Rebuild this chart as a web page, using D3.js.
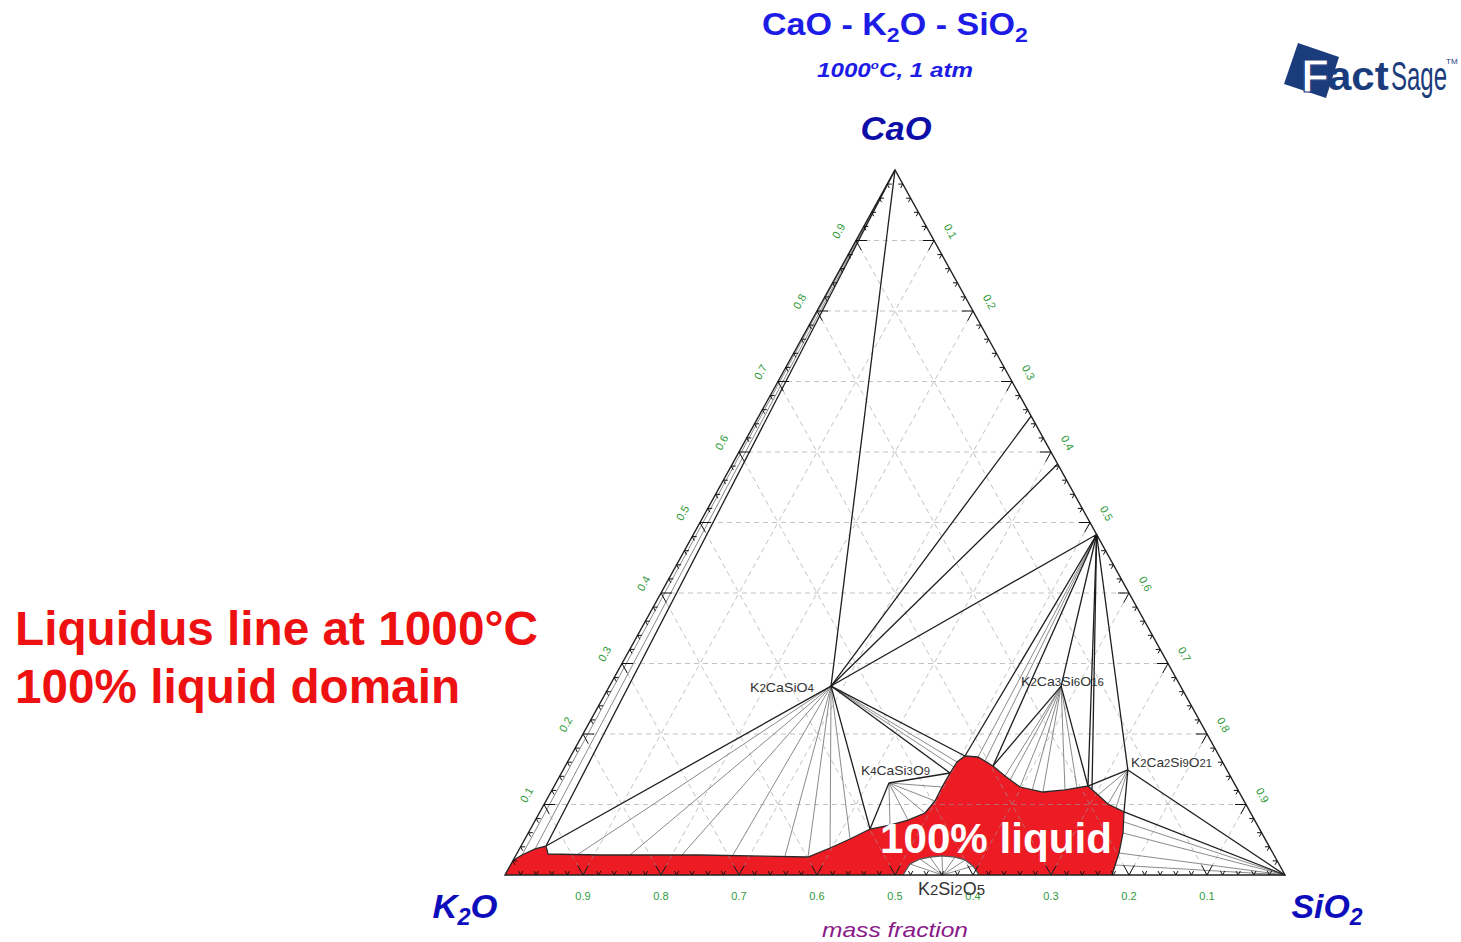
<!DOCTYPE html>
<html><head><meta charset="utf-8">
<script src="https://cdn.jsdelivr.net/npm/d3@7"></script>
<style>body{margin:0;background:#fff} svg{display:block}</style>
</head><body>
<svg id="c" width="1461" height="942"></svg>
<script>
// ---------- DATA (mass fractions: [CaO, SiO2]; K2O = 1 - CaO - SiO2) ----------
const compoundNames = ["K2CaSiO4","K4CaSi3O9","K2Ca3Si6O16","K2Ca2Si9O21","CaSiO3","Ca3Si2O7","Ca2SiO4","K2Si2O5"];
const compoundComp  = [[0.268,0.284],[0.1305,0.427],[0.268,0.579],[0.149,0.724],[0.483,0.517],[0.583,0.417],[0.651,0.349],[0,0.561]];
const cornerNames = ["CaO","K2O","SiO2"];
const cornerComp  = [[1,0],[0,0],[0,1]];

// liquidus boundary of the 100% liquid domain at 1000 °C
const liquidus = [[0,0],[0.021,0],[0.0284,0.0076],[0.0369,0.0201],[0.0411,0.032],[0.0298,0.0402],
  [0.0284,0.1076],[0.0284,0.2358],[0.0255,0.3757],[0.0383,0.3976],[0.0511,0.4168],[0.0652,0.4354],
  [0.0709,0.4581],[0.078,0.4777],[0.0879,0.4945],[0.105,0.4988],[0.1248,0.4979],[0.1447,0.4982],
  [0.1603,0.4994],[0.1688,0.5053],[0.1674,0.5227],[0.1546,0.5483],[0.1404,0.5708],[0.1248,0.5979],
  [0.1177,0.6308],[0.1206,0.6576],[0.1262,0.6843],[0.1135,0.7036],[0.1007,0.7227],[0.0894,0.7489],
  [0.0596,0.7625],[0.0312,0.7716],[0,0.7782]];
// invariant liquid corners (indices in liquidus)
const liqNames = ["LA","L1","L2","L3","L4","L5","L6"];
const liqIndex = [4,11,17,19,21,26,29];
// K2Si2O5 solid dome at the base
const dome = [[0,0.5103],[0.0156,0.5114],[0.0227,0.5207],[0.0255,0.5321],[0.027,0.5468],[0.0255,0.5641],[0.0213,0.5791],[0.0128,0.5936],[0,0.6077]];

// three-phase triangle edges (dark)
const darkTies = [["CaO","K2CaSiO4"],["CaO","LA"],["K2CaSiO4","LA"],["K2CaSiO4","Ca2SiO4"],["K2CaSiO4","Ca3Si2O7"],
  ["K2CaSiO4","CaSiO3"],["K2CaSiO4","L1"],["K4CaSi3O9","L1"],["K4CaSi3O9","L2"],["K2CaSiO4","L2"],["K2CaSiO4","L3"],
  ["CaSiO3","L3"],["CaSiO3","L4"],["K2Ca3Si6O16","L4"],["K2Ca3Si6O16","L5"],["CaSiO3","K2Ca3Si6O16"],["CaSiO3","L5"],
  ["CaSiO3","L5b"],["CaSiO3","K2Ca2Si9O21"],["K2Ca2Si9O21","L5"],["K2Ca2Si9O21","L6"],["K2Ca2Si9O21","SiO2"],["SiO2","L6"]];
const extraPointNames = ["L5b"];
const extraPointComp = [[0.122,0.6916]];

// two-phase tie-line fans (grey)
const fanOrigins = ["CaO","K2CaSiO4","K4CaSi3O9","K2CaSiO4","CaSiO3","K2Ca3Si6O16","K2Ca2Si9O21","SiO2","K2Si2O5"];
const fanEnds = [
  [[0.0284,0.0076],[0.0369,0.0201]],
  [[0.0284,0.0781],[0.0284,0.1461],[0.0284,0.2127],[0.0284,0.2781],[0.027,0.3455],[0.0255,0.3757],[0.0383,0.3976],[0.0511,0.4168]],
  [[0.0709,0.4581],[0.078,0.4777],[0.0879,0.4945],[0.105,0.4988],[0.1248,0.4979]],
  [[0.1532,0.499],[0.1603,0.4994]],
  [[0.1674,0.5227],[0.1617,0.5345]],
  [[0.1348,0.58],[0.1404,0.5708],[0.1248,0.5979],[0.1191,0.616],[0.1177,0.6308],[0.1206,0.6576],[0.1234,0.6716]],
  [[0.1135,0.7036],[0.1007,0.7227],[0.095,0.7358]],
  [[0.0752,0.756],[0.0596,0.7625],[0.0312,0.7716],[0.0142,0.775]],
  [[0.0156,0.5114],[0.0227,0.5207],[0.0255,0.5321],[0.027,0.5468],[0.0255,0.5641],[0.0213,0.5791],[0.0128,0.5936]]
];

const gridValues = [0.1,0.2,0.3,0.4,0.5,0.6,0.7,0.8,0.9];
const tickLabels = ["0.1","0.2","0.3","0.4","0.5","0.6","0.7","0.8","0.9"];
const bottomLabels = ["0.9","0.8","0.7","0.6","0.5","0.4","0.3","0.2","0.1"];
const minorStep = 0.02;

// ---------- SCALES ----------
const svg = d3.select("#c");
const FONT = "'Liberation Sans', Arial, sans-serif";
const xS = d3.scaleLinear().domain([0,1]).range([505,1285]);
const yS = d3.scaleLinear().domain([0,1]).range([875,170]);
const proj = ([c,s]) => [xS(s + c/2), yS(c)];

const P = {};
cornerNames.forEach((n,i)=>P[n]=cornerComp[i]);
compoundNames.forEach((n,i)=>P[n]=compoundComp[i]);
liqNames.forEach((n,i)=>P[n]=liquidus[liqIndex[i]]);
extraPointNames.forEach((n,i)=>P[n]=extraPointComp[i]);

const line = d3.line().x(d=>proj(d)[0]).y(d=>proj(d)[1]);

// ---------- RED LIQUID DOMAIN ----------
const poly = liquidus.concat(dome.slice().reverse());
svg.append("path").attr("d", line(poly)+"Z").attr("fill","#ed1c24").attr("stroke","none");

// ---------- DASHED GRID ----------
const grid = svg.append("g").attr("stroke","#9a9a9a").attr("stroke-opacity",0.6)
  .attr("stroke-width",1).attr("stroke-dasharray","5,4").attr("fill","none");
gridValues.forEach(v=>{
  grid.append("path").attr("d", line([[v,0],[v,1-v]]));
  grid.append("path").attr("d", line([[0,v],[1-v,v]]));
  grid.append("path").attr("d", line([[0,1-v],[1-v,0]]));
});

// ---------- TIE LINES ----------
const fans = svg.append("g").attr("stroke","#7d7d7d").attr("stroke-width",0.9).attr("fill","none");
fanOrigins.forEach((o,i)=>{
  fanEnds[i].forEach(e=>fans.append("path").attr("d", line([P[o], e])));
});
const ties = svg.append("g").attr("stroke","#1e1e1e").attr("stroke-width",1.3).attr("fill","none");
darkTies.forEach(([a,b])=>ties.append("path").attr("d", line([P[a],P[b]])));

// liquidus boundary and dome outline
svg.append("path").attr("d", line(liquidus.slice(1))).attr("fill","none").attr("stroke","#2a2a2a").attr("stroke-width",1.3);
svg.append("path").attr("d", line(dome)).attr("fill","none").attr("stroke","#555").attr("stroke-width",1.3);

// ---------- TRIANGLE FRAME ----------
svg.append("path").attr("d", line([P.K2O,P.SiO2,P.CaO])+"Z").attr("fill","none").attr("stroke","#222").attr("stroke-width",1.4);

// ---------- TICKS ----------
const tk = svg.append("g").attr("stroke","#111").attr("stroke-width",1).attr("fill","none");
const dirs = {
  left:[[1,0],[0.484,0.875]],
  bottom:[[0.484,-0.875],[-0.484,-0.875]],
  right:[[-1,0],[-0.484,0.875]]
};
d3.range(1,50).forEach(i=>{
  const t = i*minorStep;
  const major = i%5===0;
  const L = major?11:4.5;
  const pts = {left:[t,0], bottom:[0,t], right:[1-t,t]};
  Object.keys(pts).forEach(k=>{
    const [x,y] = proj(pts[k]);
    dirs[k].forEach(([dx,dy])=>tk.append("line").attr("x1",x).attr("y1",y).attr("x2",x+dx*L).attr("y2",y+dy*L));
  });
});

// ---------- AXIS LABELS ----------
const lab = svg.append("g").attr("font-family",FONT).attr("font-size",11).attr("fill","#2f9a3a")
  .attr("text-anchor","middle").attr("dominant-baseline","central");
gridValues.forEach((v,i)=>{
  let [x,y] = proj([v,0]);
  lab.append("text").attr("transform",`translate(${x-17.5},${y-9.7}) rotate(-61)`).text(tickLabels[i]);
  [x,y] = proj([1-v,v]);
  lab.append("text").attr("transform",`translate(${x+16.6},${y-9.2}) rotate(61)`).text(tickLabels[i]);
  [x,y] = proj([0,v]);
  lab.append("text").attr("x",x).attr("y",y+21).text(bottomLabels[i]);
});

// ---------- COMPOUND LABELS ----------
function chem(g, str, x, y, size, sub, len, color){
  const t = g.append("text").attr("x",x).attr("y",y).attr("font-family",FONT).attr("font-size",size).attr("fill",color);
  str.match(/\d+|\D+/g).forEach(p=>{
    t.append("tspan").attr("font-size", /\d/.test(p)?sub:size).text(p);
  });
  if(len) t.attr("textLength",len).attr("lengthAdjust","spacingAndGlyphs");
  return t;
}
const cl = svg.append("g");
const compLabelNames = ["K2CaSiO4","K4CaSi3O9","K2Ca3Si6O16","K2Ca2Si9O21","K2Si2O5"];
const compLabelPos = [[750,692,64],[861,775,69],[1021,686,83],[1131,767,81],[918,895,67]];
compLabelNames.forEach((n,i)=>{
  const [x,y,w] = compLabelPos[i];
  const big = n==="K2Si2O5";
  chem(cl, n, x, y, big?18:13.5, big?15:11, w, "#333");
});

// ---------- TITLES ----------
function formula(parts, x, y, size, opts){
  const t = svg.append("text").attr("x",x).attr("y",y).attr("text-anchor","middle")
    .attr("font-family",FONT).attr("font-size",size).attr("font-weight","bold").attr("fill",opts.fill);
  if(opts.italic) t.attr("font-style","italic");
  let shift = 0;
  parts.forEach(p=>{
    const ts = t.append("tspan").text(p.t);
    const target = p.sub ? size*0.22 : (p.sup ? -size*0.4 : 0);
    ts.attr("dy", target - shift); shift = target;
    if(p.sub||p.sup) ts.attr("font-size", size*(p.sup?0.55:0.68));
  });
  if(opts.len) t.attr("textLength",opts.len).attr("lengthAdjust","spacingAndGlyphs");
  return t;
}
formula([{t:"CaO - K"},{t:"2",sub:true},{t:"O - SiO"},{t:"2",sub:true}], 895, 35, 31, {fill:"#1c1ce6", len:266});
formula([{t:"1000"},{t:"o",sup:true},{t:"C, 1 atm"}], 895, 77, 21, {fill:"#1c1ce6", italic:true, len:156});
formula([{t:"CaO"}], 896, 140, 34, {fill:"#0d0da8", italic:true, len:71});
formula([{t:"K"},{t:"2",sub:true},{t:"O"}], 465, 918, 34, {fill:"#0d0dbb", italic:true, len:65});
formula([{t:"SiO"},{t:"2",sub:true}], 1327, 918, 34, {fill:"#0d0dbb", italic:true, len:71});
svg.append("text").attr("x",895).attr("y",937).attr("text-anchor","middle").attr("font-family",FONT)
  .attr("font-size",21).attr("font-style","italic").attr("fill","#8a1a8a")
  .attr("textLength",146).attr("lengthAdjust","spacingAndGlyphs").text("mass fraction");

// left annotation
const ann = svg.append("g").attr("font-family",FONT).attr("font-size",48).attr("font-weight","bold").attr("fill","#ee1111");
ann.append("text").attr("x",15).attr("y",645).attr("textLength",523).attr("lengthAdjust","spacingAndGlyphs").text("Liquidus line at 1000°C");
ann.append("text").attr("x",15).attr("y",703).attr("textLength",445).attr("lengthAdjust","spacingAndGlyphs").text("100% liquid domain");

// inside label
svg.append("text").attr("x",996).attr("y",853).attr("text-anchor","middle").attr("font-family",FONT)
  .attr("font-size",42).attr("font-weight","bold").attr("fill","#fff")
  .attr("textLength",232).attr("lengthAdjust","spacingAndGlyphs").text("100% liquid");

// ---------- FactSage logo ----------
const logo = svg.append("g");
const NAVY = "#1b3c7c";
logo.append("polygon").attr("points","1298,43 1339,57 1326,98 1284,84").attr("fill",NAVY);
logo.append("text").attr("x",1301).attr("y",92).attr("font-family",FONT).attr("font-size",46).attr("font-weight","bold")
  .attr("fill","#fff").attr("stroke",NAVY).attr("stroke-width",1.2).text("F");
logo.append("text").attr("transform","translate(1328,90) scale(1.05,1)").attr("font-family",FONT).attr("font-size",40).attr("font-weight","bold")
  .attr("fill",NAVY).text("act");
logo.append("text").attr("transform","translate(1391,90) scale(0.6,1)").attr("font-family",FONT).attr("font-size",40)
  .attr("fill",NAVY).text("Sage");
logo.append("text").attr("x",1446).attr("y",64).attr("font-family",FONT).attr("font-size",8)
  .attr("fill",NAVY).text("TM");
</script>
</body></html>
